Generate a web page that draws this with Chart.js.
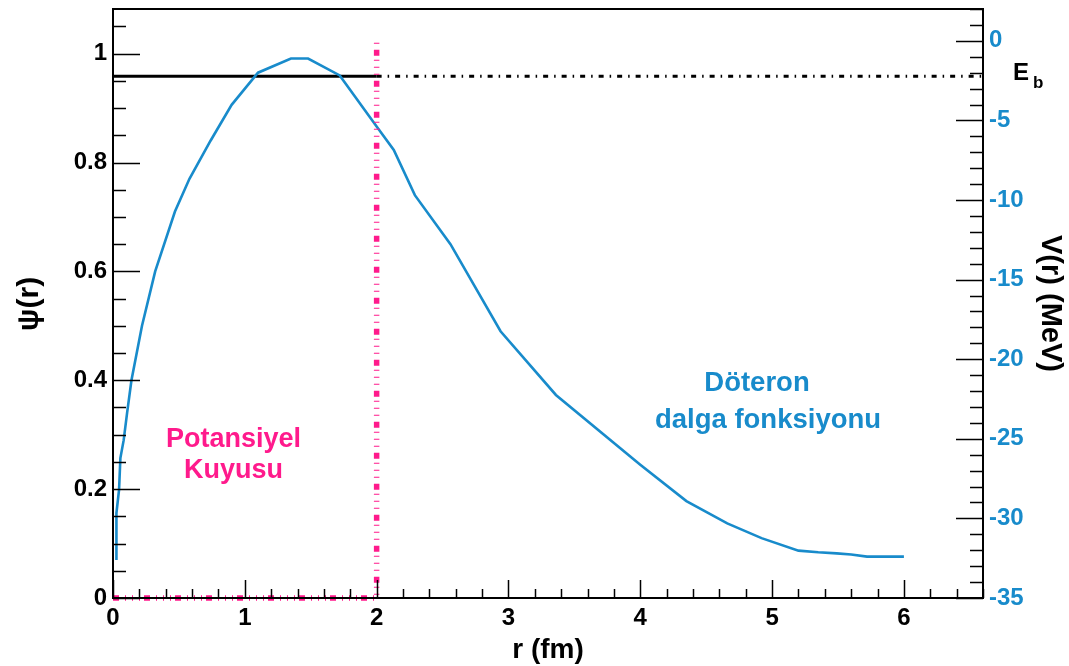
<!DOCTYPE html>
<html>
<head>
<meta charset="utf-8">
<script src="https://cdn.jsdelivr.net/npm/chart.js@4/dist/chart.umd.min.js"></script>
<style>
  html, body { margin: 0; padding: 0; background: #fff; }
  canvas { display: block; }
</style>
</head>
<body>
<canvas id="c" width="1069" height="666"></canvas>
<script>
// Deuteron radial wave function psi(r) and square-well potential V(r)
const rValues = [0.026, 0.026, 0.046, 0.056, 0.081, 0.107, 0.14, 0.22, 0.32, 0.47, 0.58, 0.74, 0.90,
                 1.10, 1.35, 1.48, 1.72, 2.0, 2.13, 2.29, 2.56, 2.94, 3.36, 4.0, 4.35, 4.66, 4.92,
                 5.2, 5.35, 5.49, 5.6, 5.72, 6.0];
const psiValues = [0.07, 0.156, 0.199, 0.257, 0.29, 0.34, 0.40, 0.50, 0.60, 0.71, 0.77, 0.84, 0.906,
                   0.965, 0.991, 0.991, 0.96, 0.866, 0.823, 0.74, 0.65, 0.49, 0.373, 0.245, 0.178, 0.137, 0.11,
                   0.087, 0.084, 0.082, 0.080, 0.076, 0.076];

const wellRadius = 2;        // fm
const wellDepth = -35;       // MeV
const bindingEnergy = -2.22; // MeV

const xTicks = [0, 1, 2, 3, 4, 5, 6];
const psiTicks = [0, 0.2, 0.4, 0.6, 0.8, 1];
const psiTickLabels = ['0', '0.2', '0.4', '0.6', '0.8', '1'];
const vTicks = [0, -5, -10, -15, -20, -25, -30, -35];

const rMax = 6.6, psiMax = 1.082, vMin = -35, vMax = 2;

const BLUE = '#188bcb';
const PINK = '#ff1a8c';
const FONT = '"Liberation Sans", Arial, Helvetica, sans-serif';

const curvePoints = rValues.map((r, i) => ({ x: r, y: psiValues[i] }));
const wellPoints = [
  { x: 0, y: wellDepth },
  { x: wellRadius, y: wellDepth },
  { x: wellRadius, y: 0 }
];
const ebInside = [{ x: 0, y: bindingEnergy }, { x: wellRadius, y: bindingEnergy }];
const ebOutside = [{ x: wellRadius, y: bindingEnergy }, { x: rMax, y: bindingEnergy }];

function setTicks(values) {
  return scale => { scale.ticks = values.map(v => ({ value: v })); };
}
function fitBox(size) {
  return scale => {
    if (scale.isHorizontal()) scale.height = size; else scale.width = size;
    scale.paddingTop = 0; scale.paddingBottom = 0;
    scale.paddingLeft = 0; scale.paddingRight = 0;
  };
}

// frame, inward tick marks and text labels
const decorations = {
  id: 'decorations',
  beforeDraw(chart) {
    const ctx = chart.ctx;
    ctx.save();
    ctx.fillStyle = '#fff';
    ctx.fillRect(0, 0, chart.width, chart.height);
    ctx.restore();
  },
  afterDraw(chart) {
    const ctx = chart.ctx;
    const a = chart.chartArea;
    const sx = chart.scales.x, sy = chart.scales.y, sv = chart.scales.y2;
    ctx.save();

    // tick marks
    ctx.strokeStyle = '#000';
    ctx.lineWidth = 1.5;
    ctx.beginPath();
    for (let k = 0; k * 0.05 <= psiMax + 1e-9; k++) {
      const major = k % 4 === 0;
      const y = Math.round(sy.getPixelForValue(k * 0.05)) + 0.5;
      ctx.moveTo(a.left, y);
      ctx.lineTo(a.left + (major ? 27 : 13), y);
    }
    for (let v = vMin; v <= vMax; v++) {
      const major = v % 5 === 0;
      const y = Math.round(sv.getPixelForValue(v)) + 0.5;
      ctx.moveTo(a.right, y);
      ctx.lineTo(a.right - (major ? 27 : 13), y);
    }
    for (let k = 0; k * 0.2 <= rMax + 1e-9; k++) {
      const major = k % 5 === 0;
      const x = Math.round(sx.getPixelForValue(k * 0.2)) + 0.5;
      ctx.moveTo(x, a.bottom);
      ctx.lineTo(x, a.bottom - (major ? 18 : 9));
    }
    ctx.stroke();

    // frame
    ctx.lineWidth = 2;
    ctx.strokeRect(a.left, a.top, a.right - a.left, a.bottom - a.top);

    // annotations
    ctx.textAlign = 'center';
    ctx.textBaseline = 'alphabetic';
    ctx.font = 'bold 27px ' + FONT;
    ctx.fillStyle = PINK;
    ctx.fillText('Potansiyel', 233.5, 447);
    ctx.fillText('Kuyusu', 233.5, 478);
    ctx.fillStyle = BLUE;
    ctx.font = 'bold 27.5px ' + FONT;
    ctx.fillText('Döteron', 757, 391);
    ctx.fillText('dalga fonksiyonu', 768, 428);

    // binding energy label
    ctx.fillStyle = '#000';
    ctx.textAlign = 'left';
    ctx.font = 'bold 24px ' + FONT;
    ctx.fillText('E', 1013, 80);
    ctx.font = 'bold 17px ' + FONT;
    ctx.fillText('b', 1033, 88);

    // axis titles
    ctx.textAlign = 'center';
    ctx.font = 'bold 28px ' + FONT;
    ctx.fillText('r (fm)', 548, 658);

    ctx.save();
    ctx.translate(38, 304);
    ctx.rotate(-Math.PI / 2);
    ctx.font = 'bold 30px ' + FONT;
    ctx.fillText('\u03C8(r)', 0, 0);
    ctx.restore();

    ctx.save();
    ctx.translate(1042, 303.5);
    ctx.rotate(Math.PI / 2);
    ctx.font = 'bold 29px ' + FONT;
    ctx.fillText('V(r) (MeV)', 0, 0);
    ctx.restore();

    ctx.restore();
  }
};

const tickFont = { family: FONT, size: 24, weight: 'bold' };

new Chart(document.getElementById('c'), {
  type: 'line',
  data: {
    datasets: [
      {
        label: 'well',
        data: wellPoints,
        yAxisID: 'y2',
        borderColor: PINK,
        borderWidth: 5.5,
        borderDash: [6, 6, 1, 6, 1, 6, 1, 4],
        borderCapStyle: 'butt',
        pointRadius: 0,
        fill: false,
        clip: false,
        order: 0
      },
      {
        label: 'psi',
        data: curvePoints,
        yAxisID: 'y',
        borderColor: BLUE,
        borderWidth: 2.6,
        pointRadius: 0,
        tension: 0,
        fill: false,
        order: 1
      },
      {
        label: 'Eb',
        data: ebInside,
        yAxisID: 'y2',
        borderColor: '#000',
        borderWidth: 3,
        pointRadius: 0,
        fill: false,
        order: 2
      },
      {
        label: 'Eb outside',
        data: ebOutside,
        yAxisID: 'y2',
        borderColor: '#000',
        borderWidth: 3,
        borderDash: [5, 6, 1.5, 6],
        borderCapStyle: 'butt',
        pointRadius: 0,
        fill: false,
        order: 2
      }
    ]
  },
  options: {
    responsive: false,
    animation: false,
    events: [],
    parsing: false,
    layout: { padding: { top: 9, left: 0, right: 0, bottom: 0 } },
    plugins: { legend: { display: false }, tooltip: { enabled: false }, title: { display: false } },
    scales: {
      x: {
        type: 'linear',
        position: 'bottom',
        min: 0,
        max: rMax,
        afterBuildTicks: setTicks(xTicks),
        afterFit: fitBox(68),
        grid: { display: false, drawTicks: false },
        border: { display: false },
        ticks: {
          color: '#000',
          font: tickFont,
          padding: 6,
          maxRotation: 0,
          autoSkip: false,
          callback: v => String(v)
        }
      },
      y: {
        type: 'linear',
        position: 'left',
        min: 0,
        max: psiMax,
        afterBuildTicks: setTicks(psiTicks),
        afterFit: fitBox(113),
        grid: { display: false, drawTicks: false },
        border: { display: false },
        ticks: {
          color: '#000',
          font: tickFont,
          padding: 6,
          autoSkip: false,
          callback: v => psiTickLabels[psiTicks.indexOf(v)]
        }
      },
      y2: {
        type: 'linear',
        position: 'right',
        min: vMin,
        max: vMax,
        afterBuildTicks: setTicks(vTicks),
        afterFit: fitBox(86),
        grid: { display: false, drawTicks: false },
        border: { display: false },
        ticks: {
          color: BLUE,
          font: tickFont,
          padding: 6,
          autoSkip: false,
          callback: v => String(v)
        }
      }
    }
  },
  plugins: [decorations]
});
</script>
</body>
</html>
